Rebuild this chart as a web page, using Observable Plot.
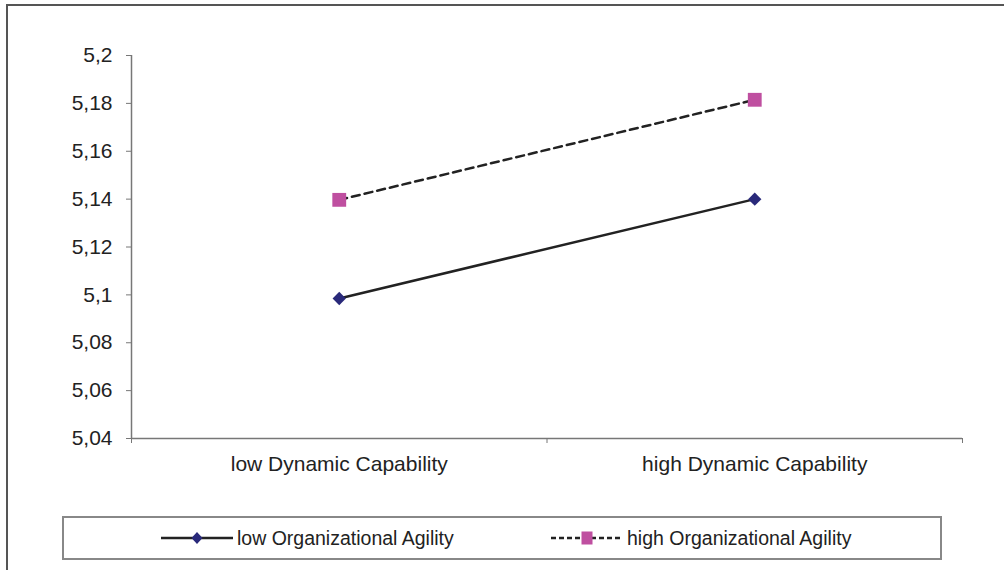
<!DOCTYPE html>
<html>
<head>
<meta charset="utf-8">
<script src="https://cdn.jsdelivr.net/npm/d3@7"></script>
<script src="https://cdn.jsdelivr.net/npm/@observablehq/plot@0.6"></script>
<style>
  html, body { margin: 0; padding: 0; background: #fff; }
  body { width: 1004px; height: 570px; position: relative; overflow: hidden; font-family: "Liberation Sans", Arial, sans-serif; }
  #frame { position: absolute; left: 6px; top: 4px; width: 1100px; height: 700px; border-left: 2px solid #555; border-top: 2px solid #555; box-sizing: border-box; }
  #chart { position: absolute; left: 0; top: 0; }
  #legend { position: absolute; left: 62px; top: 516px; width: 880px; height: 44px; border: 2px solid #888; box-sizing: border-box; background: #fff; }
  .item { position: absolute; top: 0; height: 40px; display: flex; align-items: center; font-size: 19.5px; color: #222; }
  .item svg { margin-right: 3px; }
</style>
</head>
<body>
<div id="frame"></div>
<div id="chart"></div>
<div id="legend"></div>
<script>
const categories = ["low Dynamic Capability", "high Dynamic Capability"];
const seriesNames = ["low Organizational Agility", "high Organizational Agility"];
const lowOA = [5.0985, 5.140];
const highOA = [5.1397, 5.1815];
const yTicks = [5.04, 5.06, 5.08, 5.10, 5.12, 5.14, 5.16, 5.18, 5.20];

const rows = [];
categories.forEach((c, i) => {
  rows.push({series: seriesNames[0], cat: c, x: i + 0.5, y: lowOA[i]});
  rows.push({series: seriesNames[1], cat: c, x: i + 0.5, y: highOA[i]});
});
const lowRows = rows.filter(d => d.series === seriesNames[0]);
const highRows = rows.filter(d => d.series === seriesNames[1]);
const edges = d3.range(categories.length + 1);
const centers = categories.map((c, i) => i + 0.5);
const fmt = v => String(+v.toFixed(2)).replace(".", ",");

const axisColor = "#777";
const chart = Plot.plot({
  width: 1004,
  height: 505,
  marginLeft: 131,
  marginRight: 42,
  marginTop: 55,
  marginBottom: 67,
  style: {fontFamily: "'Liberation Sans', Arial, sans-serif", fontSize: "20px", color: "#222", background: "transparent"},
  x: {type: "linear", domain: [0, categories.length]},
  y: {domain: [5.04, 5.2]},
  marks: [
    Plot.axisY({ticks: yTicks, tickFormat: fmt, tickSize: 5, tickPadding: 14, stroke: axisColor, fontSize: 21, label: null}),
    Plot.axisX({ticks: edges, tickFormat: () => "", tickSize: 5, stroke: axisColor, label: null}),
    Plot.axisX({ticks: centers, tickFormat: v => categories[Math.floor(v)], tickSize: 0, tickPadding: 18, fontSize: 21, label: null}),
    Plot.ruleX([0], {stroke: axisColor, strokeWidth: 1.5}),
    Plot.ruleY([5.04], {stroke: axisColor, strokeWidth: 1.5}),
    Plot.line(lowRows, {x: "x", y: "y", stroke: "#222", strokeWidth: 2.5}),
    Plot.line(highRows, {x: "x", y: "y", stroke: "#222", strokeWidth: 2.5, strokeDasharray: "8,5"}),
    Plot.dot(lowRows, {x: "x", y: "y", symbol: "diamond2", r: 6, fill: "#29297a", stroke: null}),
    Plot.dot(highRows, {x: "x", y: "y", symbol: "square", r: 7.8, fill: "#bf4fa0", stroke: null})
  ]
});
document.getElementById("chart").appendChild(chart);

// Legend
const legend = document.getElementById("legend");
const itemDefs = [
  {name: seriesNames[0], left: 96, dash: null, sym: "diamond"},
  {name: seriesNames[1], left: 486, dash: "5,3", sym: "square"}
];
itemDefs.forEach(def => {
  const div = document.createElement("div");
  div.className = "item";
  div.style.left = def.left + "px";
  const ns = "http://www.w3.org/2000/svg";
  const svg = document.createElementNS(ns, "svg");
  svg.setAttribute("width", 74);
  svg.setAttribute("height", 20);
  const line = document.createElementNS(ns, "line");
  line.setAttribute("x1", 1); line.setAttribute("x2", 73);
  line.setAttribute("y1", 10); line.setAttribute("y2", 10);
  line.setAttribute("stroke", "#222"); line.setAttribute("stroke-width", 2.5);
  if (def.dash) line.setAttribute("stroke-dasharray", def.dash);
  svg.appendChild(line);
  if (def.sym === "diamond") {
    const p = document.createElementNS(ns, "path");
    p.setAttribute("d", "M37,4 L42.5,10 L37,16 L31.5,10 Z");
    p.setAttribute("fill", "#29297a");
    svg.appendChild(p);
  } else {
    const r = document.createElementNS(ns, "rect");
    r.setAttribute("x", 31.5); r.setAttribute("y", 3.5);
    r.setAttribute("width", 11); r.setAttribute("height", 13);
    r.setAttribute("fill", "#bf4fa0");
    svg.appendChild(r);
  }
  div.appendChild(svg);
  const span = document.createElement("span");
  span.textContent = def.name;
  div.appendChild(span);
  legend.appendChild(div);
});
</script>
</body>
</html>
